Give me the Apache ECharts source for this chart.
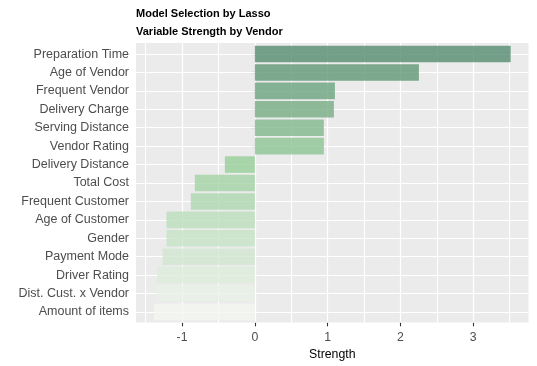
<!DOCTYPE html>
<html>
<head>
<meta charset="utf-8">
<script src="https://cdn.jsdelivr.net/npm/echarts@6/dist/echarts.min.js"></script>
<style>html,body{margin:0;padding:0;background:#fff}#c{width:537px;height:366px}</style>
</head>
<body>
<div id="c"></div>
<script>
const categories = ["Preparation Time","Age of Vendor","Frequent Vendor","Delivery Charge","Serving Distance","Vendor Rating","Delivery Distance","Total Cost","Frequent Customer","Age of Customer","Gender","Payment Mode","Driver Rating","Dist. Cust. x Vendor","Amount of items"];
const strength = [3.515, 2.254, 1.100, 1.086, 0.948, 0.948, -0.412, -0.825, -0.880, -1.214, -1.214, -1.269, -1.343, -1.351, -1.388];
const xTicks = [-1, 0, 1, 2, 3];
const xMinor = [-1.5, -0.5, 0.5, 1.5, 2.5, 3.5];

const FONT = '"Liberation Sans", Arial, sans-serif';
const XMIN = -1.633, XMAX = 3.76;

// colour ramp by rank (underlying colour, drawn at 0.8 opacity over grey panel)
const stops = [[0, [85,140,112]], [6/14, [151,206,154]], [1, [244,246,241]]];
function colorAt(i, n) {
  const t = n > 1 ? i / (n - 1) : 0;
  let a = stops[0], b = stops[stops.length - 1];
  for (let k = 0; k < stops.length - 1; k++) {
    if (t >= stops[k][0] && t <= stops[k + 1][0]) { a = stops[k]; b = stops[k + 1]; break; }
  }
  const f = (t - a[0]) / (b[0] - a[0] || 1);
  const c = a[1].map((v, j) => Math.round(v + (b[1][j] - v) * f));
  return 'rgb(' + c.join(',') + ')';
}

const chart = echarts.init(document.getElementById('c'), null, {renderer: 'canvas'});
const vLines = xTicks.map(v => ({xAxis: v, lineStyle: {width: 1.2}}))
  .concat(xMinor.map(v => ({xAxis: v, lineStyle: {width: 1}})));
const hLines = categories.map(c => ({yAxis: c}));

chart.setOption({
  animation: false,
  backgroundColor: '#ffffff',
  title: [
    {text: 'Model Selection by Lasso', left: 136, top: 7, padding: 0, textStyle: {fontFamily: FONT, fontSize: 11, fontWeight: 'bold', color: '#000', lineHeight: 13}},
    {text: 'Variable Strength by Vendor', left: 136, top: 25, padding: 0, textStyle: {fontFamily: FONT, fontSize: 11, fontWeight: 'bold', color: '#000', lineHeight: 13}}
  ],
  grid: [
    {left: 136, right: 8.5, top: 43, height: 280, show: true, backgroundColor: '#EBEBEB', borderWidth: 0},
    {left: 136, right: 8.5, top: 44.84, height: 276.32, show: false}
  ],
  xAxis: [
    {type: 'value', gridIndex: 0, min: XMIN, max: XMAX,
     axisLine: {show: false},
     axisTick: {show: true, length: 3.7, lineStyle: {color: '#333333', width: 1.1}, customValues: xTicks},
     axisLabel: {color: '#4D4D4D', fontFamily: FONT, fontSize: 12.3, margin: 9.5, customValues: xTicks},
     splitLine: {show: false},
     name: 'Strength', nameLocation: 'middle', nameGap: 25,
     nameTextStyle: {color: '#000', fontFamily: FONT, fontSize: 12.3}},
    {type: 'value', gridIndex: 1, min: XMIN, max: XMAX, show: false, splitLine: {show: false}}
  ],
  yAxis: [
    {type: 'value', gridIndex: 0, min: 0, max: 1, show: false, splitLine: {show: false}},
    {type: 'category', gridIndex: 1, data: categories, inverse: true,
     axisLine: {show: false},
     axisTick: {show: true, alignWithLabel: true, length: 3.7, lineStyle: {color: '#333333', width: 1.1}},
     axisLabel: {color: '#4D4D4D', fontFamily: FONT, fontSize: 12.5, margin: 7, padding: [6, 0, 0, 0]},
     splitLine: {show: false}}
  ],
  series: [
    {type: 'line', xAxisIndex: 0, yAxisIndex: 0, data: [], z: 1, silent: true,
     markLine: {z: 1, symbol: 'none', silent: true, animation: false, label: {show: false},
       lineStyle: {color: '#ffffff', type: 'solid'}, data: vLines}},
    {type: 'line', xAxisIndex: 1, yAxisIndex: 1, data: [], z: 1, silent: true,
     markLine: {z: 1, symbol: 'none', silent: true, animation: false, label: {show: false},
       lineStyle: {color: '#ffffff', type: 'solid', width: 1.1}, data: hLines}},
    {type: 'bar', xAxisIndex: 1, yAxisIndex: 1, z: 3, barWidth: '90%',
     data: strength.map((v, i) => ({value: v, itemStyle: {color: colorAt(i, strength.length), opacity: 0.8}}))}
  ]
});
</script>
</body>
</html>
